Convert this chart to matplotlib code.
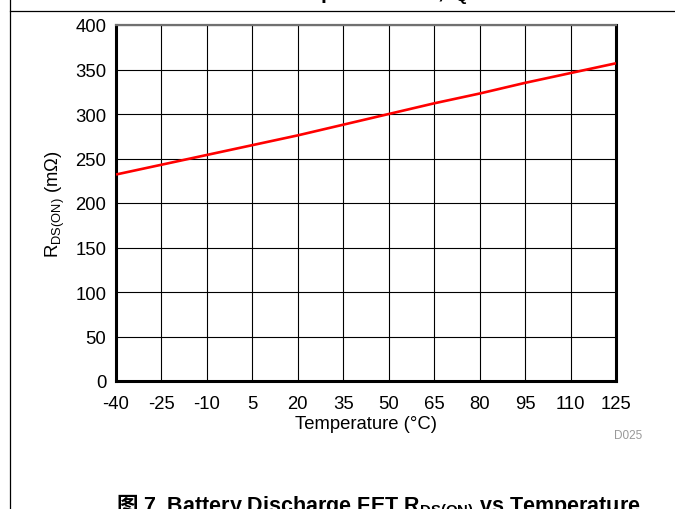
import matplotlib
matplotlib.use("Agg")
import matplotlib.pyplot as plt
from matplotlib.lines import Line2D

plt.rcParams['font.family'] = ['Liberation Sans', 'Noto Sans CJK SC', 'DejaVu Sans']
plt.rcParams['mathtext.default'] = 'regular'
plt.rcParams['axes.unicode_minus'] = False

temperature = [-40, -25, -10, 5, 20, 35, 50, 65, 80, 95, 110, 125]
rdson = [232, 243, 254, 265, 276, 288, 300, 312, 323, 335, 346, 357]
xticks = [-40, -25, -10, 5, 20, 35, 50, 65, 80, 95, 110, 125]
yticks = [0, 50, 100, 150, 200, 250, 300, 350, 400]

fig = plt.figure(figsize=(6.75, 5.1), dpi=100)
ax = fig.add_axes([116/675, 1-382/510, 500/675, 356/510])

ax.plot(temperature, rdson, color='#ff0000', lw=1.9, zorder=3, solid_capstyle='butt')
ax.set_xlim(-40, 125)
ax.set_ylim(0, 400)
ax.set_xticks(xticks)
ax.set_yticks(yticks)
ax.grid(True, color='black', lw=0.8)
ax.tick_params(length=0, labelsize=13.3, colors='black')
ax.tick_params(axis='x', pad=10)
ax.tick_params(axis='y', pad=7)
for s in ['left', 'right', 'bottom']:
    ax.spines[s].set_linewidth(2.2)
    ax.spines[s].set_color('black')
ax.spines['top'].set_linewidth(1.6)
ax.spines['top'].set_color('#707070')

ax.set_xlabel('Temperature (°C)', fontsize=13.3, labelpad=2)
ax.set_ylabel('R$_{DS(ON)}$ (mΩ)', fontsize=13.3, labelpad=6)

fig.text(628/675, 1-436/510, 'D025', fontsize=8.5, color='#999999', ha='center', va='center')

# frame lines
fig.add_artist(Line2D([10/675, 10/675], [0, 1], color='black', lw=0.9, transform=fig.transFigure))
fig.add_artist(Line2D([10/675, 1], [1-12/510, 1-12/510], color='black', lw=0.9, transform=fig.transFigure))

cjk = ['Noto Sans CJK SC', 'DejaVu Sans']
fs_cap = 15.5
# top caption (cut off)
fig.text(272/675, 1+2/510, '图', fontsize=fs_cap, fontweight='bold', family=cjk, ha='right', va='baseline')
fig.text(277/675, 1+2/510, '6. Input Current, I$_Q$', fontsize=fs_cap, fontweight='bold',
         ha='left', va='baseline')
# bottom caption
fig.text(138/675, -2/510, '图', fontsize=fs_cap, fontweight='bold', family=cjk, ha='right', va='baseline')
fig.text(143/675, -2/510, '7. Battery Discharge FET R$_{DS(ON)}$ vs Temperature', fontsize=fs_cap,
         fontweight='bold', ha='left', va='baseline')

fig.savefig('out.png', dpi=100)
